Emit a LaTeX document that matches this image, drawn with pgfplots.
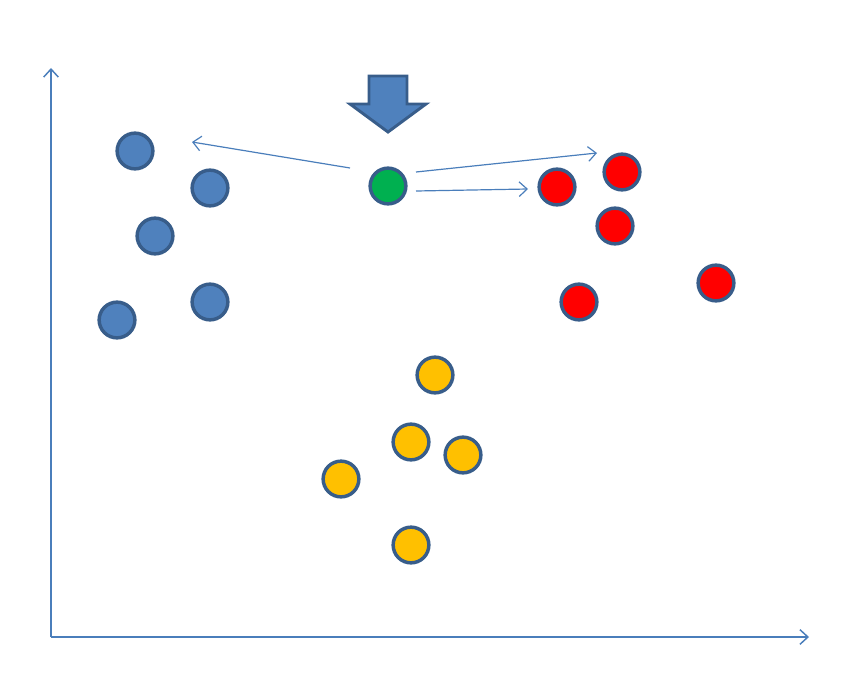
\documentclass[border=0pt]{standalone}
\usepackage{pgfplots}
\pgfplotsset{compat=1.18}
\usetikzlibrary{arrows.meta}
\begin{document}
\begin{tikzpicture}
  \definecolor{ptBlue}{RGB}{79,129,189}
  \definecolor{ptEdge}{RGB}{56,93,138}
  \definecolor{ptGreen}{RGB}{0,176,80}
  \definecolor{ptRed}{RGB}{255,0,0}
  \definecolor{ptYellow}{RGB}{255,192,0}
  \definecolor{lnBlue}{RGB}{74,126,187}
  \begin{axis}[
      width=636pt, height=519pt,
      scale only axis,
      xmin=0, xmax=848,
      ymin=0, ymax=692,
      y dir=reverse,
      hide axis,
      clip=false,
    ]
    % frame to fix the bounding box
    \addplot[draw=none, forget plot] coordinates {(0,0)(848,692)};

    % axes
    \addplot[lnBlue, line width=1.1pt, -{Straight Barb[length=6pt,width=11pt]}]
      coordinates {(51,637)(51,68)};
    \addplot[lnBlue, line width=1.1pt, -{Straight Barb[length=6pt,width=11pt]}]
      coordinates {(51,637)(809,637)};

    % arrows from the new point
    \addplot[lnBlue, line width=0.9pt, -{Straight Barb[length=6pt,width=11pt]}]
      coordinates {(350,168)(192,142)};
    \addplot[lnBlue, line width=0.9pt, -{Straight Barb[length=6pt,width=11pt]}]
      coordinates {(416,172)(597,153)};
    \addplot[lnBlue, line width=0.9pt, -{Straight Barb[length=6pt,width=11pt]}]
      coordinates {(416,191)(528,189)};

    % big down arrow
    \addplot[fill=ptBlue, draw=ptEdge, line width=2.2pt, line join=miter]
      coordinates {(369,76)(407,76)(407,104)(426,104)(388,132)(350,104)(369,104)} -- cycle;

    % blue cluster
    \addplot[only marks, mark=*, mark size=13.4pt,
      mark options={fill=ptBlue, draw=ptEdge, line width=2.6pt}]
      coordinates {(135,151)(210,188)(155,236)(210,302)(117,320)};
    % green point
    \addplot[only marks, mark=*, mark size=13.4pt,
      mark options={fill=ptGreen, draw=ptEdge, line width=2.6pt}]
      coordinates {(388,186)};
    % red cluster
    \addplot[only marks, mark=*, mark size=13.4pt,
      mark options={fill=ptRed, draw=ptEdge, line width=2.6pt}]
      coordinates {(557,187)(622,172)(615,226)(579,302)(716,283)};
    % yellow cluster
    \addplot[only marks, mark=*, mark size=13.4pt,
      mark options={fill=ptYellow, draw=ptEdge, line width=2.6pt}]
      coordinates {(435,375)(411,442)(463,455)(341,479)(411,545)};
  \end{axis}
\end{tikzpicture}
\end{document}
